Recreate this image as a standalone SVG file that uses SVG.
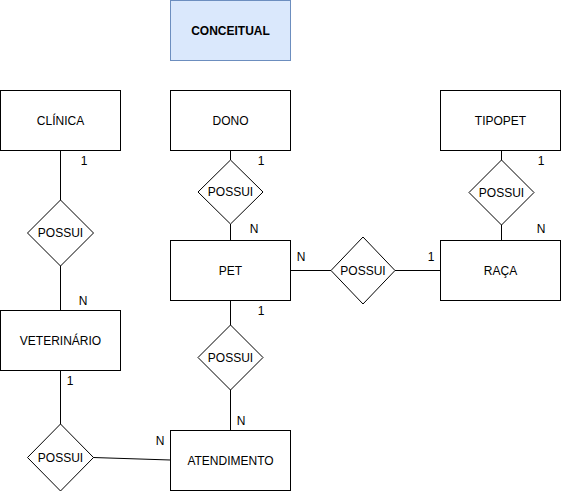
<svg xmlns="http://www.w3.org/2000/svg" width="562" height="492" viewBox="0 0 562 492">
<style>
.box{fill:#ffffff;stroke:#000000;stroke-width:1}
.blue{fill:#dae8fc;stroke:#6c8ebf;stroke-width:1}
.dia{fill:#ffffff;stroke:#000000;stroke-width:1}
.edge{fill:none;stroke:#000000;stroke-width:1}
text{font-family:"Liberation Sans",Arial,Helvetica,sans-serif;font-size:12px;fill:#000000}
.c{text-anchor:middle;dominant-baseline:central}
.b{font-weight:bold}
.lbl{text-anchor:middle}
</style>
<rect width="562" height="492" fill="#ffffff"/>
<g id="edges">
<path class="edge" d="M60.5,150.5V200"/>
<path class="edge" d="M60.5,266V310.5"/>
<path class="edge" d="M230.5,150.5V160"/>
<path class="edge" d="M230.5,224V240.5"/>
<path class="edge" d="M501.5,150.5V160"/>
<path class="edge" d="M501.5,225V240.5"/>
<path class="edge" d="M290.5,270.5H331"/>
<path class="edge" d="M395,270.5H440.5"/>
<path class="edge" d="M230.5,300.5V325"/>
<path class="edge" d="M230.5,390V430.5"/>
<path class="edge" d="M60.5,370.5V424"/>
<path class="edge" d="M93,457.5L170.5,460"/>
</g>
<g id="conceitual"><rect class="blue" x="170.5" y="0.5" width="120" height="60"/><text class="c b" x="230.5" y="30.5">CONCEITUAL</text></g>
<g id="clinica"><rect class="box" x="0.5" y="90.5" width="120" height="60"/><text class="c" x="60.5" y="120.5">CLÍNICA</text></g>
<g id="dono"><rect class="box" x="170.5" y="90.5" width="120" height="60"/><text class="c" x="230.5" y="120.5">DONO</text></g>
<g id="tipopet"><rect class="box" x="440.5" y="90.5" width="120" height="60"/><text class="c" x="500.5" y="120.5">TIPOPET</text></g>
<g id="pet"><rect class="box" x="170.5" y="240.5" width="120" height="60"/><text class="c" x="230.5" y="270.5">PET</text></g>
<g id="raca"><rect class="box" x="440.5" y="240.5" width="120" height="60"/><text class="c" x="500.5" y="270.5">RAÇA</text></g>
<g id="veterinario"><rect class="box" x="0.5" y="310.5" width="120" height="60"/><text class="c" x="60.5" y="340.5">VETERINÁRIO</text></g>
<g id="atendimento"><rect class="box" x="170.5" y="430.5" width="120" height="60"/><text class="c" x="230.5" y="460.5">ATENDIMENTO</text></g>
<g id="possui-clinica-vet"><polygon class="dia" points="60.5,200 93.5,233 60.5,266 27.5,233"/><text class="c" x="60.5" y="233">POSSUI</text></g>
<g id="possui-dono-pet"><polygon class="dia" points="230.5,160 263,192 230.5,224 198,192"/><text class="c" x="230.5" y="192">POSSUI</text></g>
<g id="possui-tipopet-raca"><polygon class="dia" points="501.5,160 534,192.5 501.5,225 469,192.5"/><text class="c" x="501.5" y="192.5">POSSUI</text></g>
<g id="possui-pet-raca"><polygon class="dia" points="363,237 395,270.5 363,304 331,270.5"/><text class="c" x="363" y="270.5">POSSUI</text></g>
<g id="possui-pet-atend"><polygon class="dia" points="230.5,325 263,357.5 230.5,390 198,357.5"/><text class="c" x="230.5" y="357.5">POSSUI</text></g>
<g id="possui-vet-atend"><polygon class="dia" points="60.5,424 93.5,457.5 60.5,491 27.5,457.5"/><text class="c" x="60.5" y="457.5">POSSUI</text></g>
<g id="labels">
<text class="lbl" x="84" y="165">1</text>
<text class="lbl" x="83" y="305">N</text>
<text class="lbl" x="261" y="165">1</text>
<text class="lbl" x="254" y="233">N</text>
<text class="lbl" x="541" y="165">1</text>
<text class="lbl" x="541" y="233">N</text>
<text class="lbl" x="301" y="261">N</text>
<text class="lbl" x="431" y="261">1</text>
<text class="lbl" x="261" y="315">1</text>
<text class="lbl" x="241" y="425">N</text>
<text class="lbl" x="70" y="385">1</text>
<text class="lbl" x="160" y="445">N</text>
</g>
</svg>
